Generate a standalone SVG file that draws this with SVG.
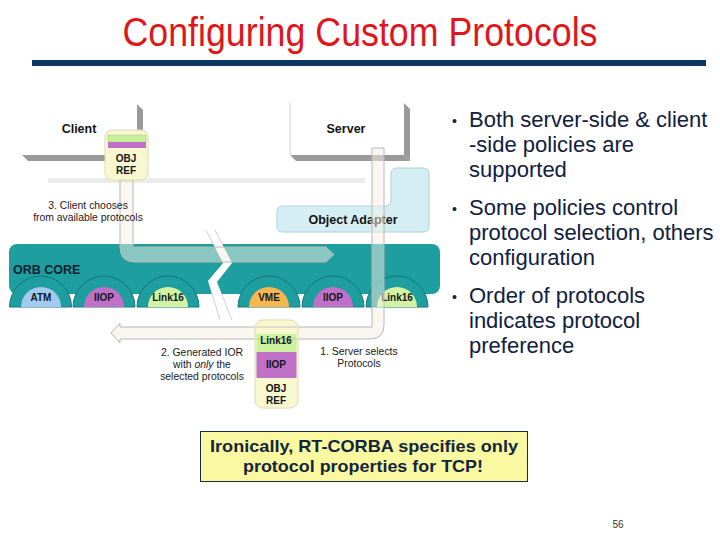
<svg xmlns="http://www.w3.org/2000/svg" width="720" height="540" viewBox="0 0 720 540">
<style>
  .lbl{font-family:"Liberation Sans",Arial,sans-serif;font-weight:bold;font-size:12.5px;fill:#141414;text-anchor:middle}
  .orb{font-family:"Liberation Sans",Arial,sans-serif;font-weight:bold;font-size:12.5px;fill:#0a2030;text-anchor:start}
  .note{font-family:"Liberation Sans",Arial,sans-serif;font-size:10.4px;fill:#1a1a1a;text-anchor:middle}
  .proto{font-family:"Liberation Sans",Arial,sans-serif;font-weight:bold;font-size:10px;fill:#101820;text-anchor:middle}
  .bul{font-family:"Liberation Sans",Arial,sans-serif;font-size:22px;fill:#10203e}
  .dot{font-family:"Liberation Sans",Arial,sans-serif;font-size:14px;fill:#10203e}
  .shadow{fill:#9a9a9a}
  .hump{fill:#1f9ea0;stroke:#14767a;stroke-width:1}
  .objref{fill:#f9f7cf;stroke:#dcdcb0;stroke-width:1}
  .pipe{fill:#f5f0e4;fill-opacity:0.5;stroke:#b8b8b8;stroke-width:1}
  .brk{stroke:#c4c4c4;stroke-width:0.8;fill:none}
  .call{font-family:"Liberation Sans",Arial,sans-serif;font-size:17px;font-weight:bold;fill:#12263a;text-anchor:middle}
</style>
<rect width="720" height="540" fill="#ffffff"/>

<g id="title">
  <text x="360" y="46" font-family="'Liberation Sans',Arial,sans-serif" font-size="40" fill="#e0161a" text-anchor="middle" textLength="475" lengthAdjust="spacingAndGlyphs">Configuring Custom Protocols</text>
  <rect x="32" y="60" width="674" height="6" fill="#0b3763"/>
</g>

<rect id="divider" x="48" y="178" width="317" height="5" fill="#ebebeb"/>

<g id="client">
  <polygon class="shadow" points="137,104 143,110 143,161 137,155"/>
  <polygon class="shadow" points="22,155 137,155 143,161 28,161"/>
  <text class="lbl" x="79" y="133">Client</text>
</g>

<g id="server">
  <line x1="290" y1="103" x2="290" y2="155" stroke="#d0d0d0" stroke-width="1"/>
  <polygon class="shadow" points="404,103 410,109 410,161 404,155"/>
  <polygon class="shadow" points="290,155 404,155 410,161 296,161"/>
  <text class="lbl" x="346" y="133">Server</text>
</g>

<g id="object-adapter">
  <path d="M283,206 L385,206 Q391,206 391,200 L391,174 Q391,168 397,168 L423,168 Q429,168 429,174 L429,226 Q429,232 423,232 L283,232 Q277,232 277,226 L277,212 Q277,206 283,206 Z" fill="#d5eef4" stroke="#a9d3dc" stroke-width="1"/>
  <text class="lbl" x="353" y="224">Object Adapter</text>
</g>

<g id="orb-core">
  <rect x="9" y="244" width="431" height="50" rx="8" fill="#1f9ea0"/>
  <path class="hump" d="M9.5,307 A31,31 0 0 1 71.5,307 Z"/>
  <path class="hump" d="M73,307 A31,31 0 0 1 135,307 Z"/>
  <path class="hump" d="M137,307 A31,31 0 0 1 199,307 Z"/>
  <path class="hump" d="M238,307 A31,31 0 0 1 300,307 Z"/>
  <path class="hump" d="M302,307 A31,31 0 0 1 364,307 Z"/>
  <path class="hump" d="M366,307 A31,31 0 0 1 428,307 Z"/>
  <path d="M21,307 A20,20 0 0 1 61,307 Z" fill="#a2caf0"/>
  <path d="M84,307 A20,20 0 0 1 124,307 Z" fill="#c070c6"/>
  <path d="M148,307 A20,20 0 0 1 188,307 Z" fill="#d4f3a2"/>
  <path d="M249,307 A20,20 0 0 1 289,307 Z" fill="#f7b64e"/>
  <path d="M313,307 A20,20 0 0 1 353,307 Z" fill="#c070c6"/>
  <path d="M377,307 A20,20 0 0 1 417,307 Z" fill="#d4f3a2"/>
  <text class="proto" x="41" y="301">ATM</text>
  <text class="proto" x="104" y="301">IIOP</text>
  <text class="proto" x="168" y="301">Link16</text>
  <text class="proto" x="269" y="301">VME</text>
  <text class="proto" x="333" y="301">IIOP</text>
  <text class="proto" x="397" y="301">Link16</text>
  <text class="orb" x="13" y="274">ORB CORE</text>
  <polygon points="206,230 215,230 232,263 217,282 232,320 220,320 208,281 223,263" fill="#ffffff"/>
  <line class="brk" x1="206" y1="230" x2="213.2" y2="244"/>
  <line class="brk" x1="215" y1="230" x2="222.2" y2="244"/>
  <line class="brk" x1="212" y1="294" x2="220" y2="320"/>
  <line class="brk" x1="221.7" y1="294" x2="232" y2="320"/>
</g>

<g id="connectors">
  <path id="client-pipe" class="pipe" d="M120,180 L120,247 Q120,262 135,262 L326,262 L334,254.5 L326,247 L133,247 L133,180 Z"/>
  <path id="server-pipe" class="pipe" d="M372,148 L384,148 L384,325 Q384,339 370,339 L120,339 L120,343 L111,333 L120,323 L120,327 L372,327 Z"/>
</g>

<g id="client-objref">
  <rect class="objref" x="105" y="130" width="43" height="50" rx="7"/>
  <rect x="108" y="135" width="38" height="7" fill="#c8f09a" stroke="#a8c880" stroke-width="0.5"/>
  <rect x="108" y="142" width="38" height="6" fill="#c070c6"/>
  <text class="proto" x="126" y="162">OBJ</text>
  <text class="proto" x="126" y="174">REF</text>
</g>

<g id="ior-objref">
  <rect class="objref" x="255" y="320" width="43" height="88" rx="8"/>
  <rect x="256.5" y="334" width="40" height="18" fill="#ccf29e"/>
  <rect x="256.5" y="352" width="40" height="26" fill="#c070c6"/>
  <line x1="256.5" y1="327" x2="296.5" y2="327" stroke="#b8b8b8" stroke-width="0.8"/>
  <line x1="256.5" y1="339" x2="296.5" y2="339" stroke="#b8b8b8" stroke-width="0.8"/>
  <text class="proto" x="276" y="344">Link16</text>
  <text class="proto" x="276" y="368">IIOP</text>
  <text class="proto" x="276" y="392">OBJ</text>
  <text class="proto" x="276" y="404">REF</text>
</g>

<g id="notes">
  <text class="note" x="88" y="209">3. Client chooses</text>
  <text class="note" x="88" y="221">from available protocols</text>
  <text class="note" x="202" y="356">2. Generated IOR</text>
  <text class="note" x="202" y="368">with <tspan font-style="italic">only</tspan> the</text>
  <text class="note" x="202" y="380">selected protocols</text>
  <text class="note" x="359" y="355">1. Server selects</text>
  <text class="note" x="359" y="367">Protocols</text>
</g>

<g id="bullets">
  <text class="dot" x="452" y="126">•</text>
  <text class="bul" x="469" y="127">Both server-side &amp; client</text>
  <text class="bul" x="469" y="152">-side policies are</text>
  <text class="bul" x="469" y="177">supported</text>
  <text class="dot" x="452" y="214">•</text>
  <text class="bul" x="469" y="215">Some policies control</text>
  <text class="bul" x="469" y="240">protocol selection, others</text>
  <text class="bul" x="469" y="265">configuration</text>
  <text class="dot" x="452" y="302">•</text>
  <text class="bul" x="469" y="303">Order of protocols</text>
  <text class="bul" x="469" y="328">indicates protocol</text>
  <text class="bul" x="469" y="353">preference</text>
</g>

<g id="callout">
  <rect x="200.5" y="431.5" width="327" height="50" fill="#fbf8a2" stroke="#1a2a3a" stroke-width="1"/>
  <text class="call" x="364" y="452" textLength="308" lengthAdjust="spacingAndGlyphs">Ironically, RT-CORBA specifies only</text>
  <text class="call" x="363" y="472" textLength="240" lengthAdjust="spacingAndGlyphs">protocol properties for TCP!</text>
</g>

<text id="page" x="618" y="528" font-family="'Liberation Sans',Arial,sans-serif" font-size="10" fill="#333" text-anchor="middle">56</text>
</svg>
